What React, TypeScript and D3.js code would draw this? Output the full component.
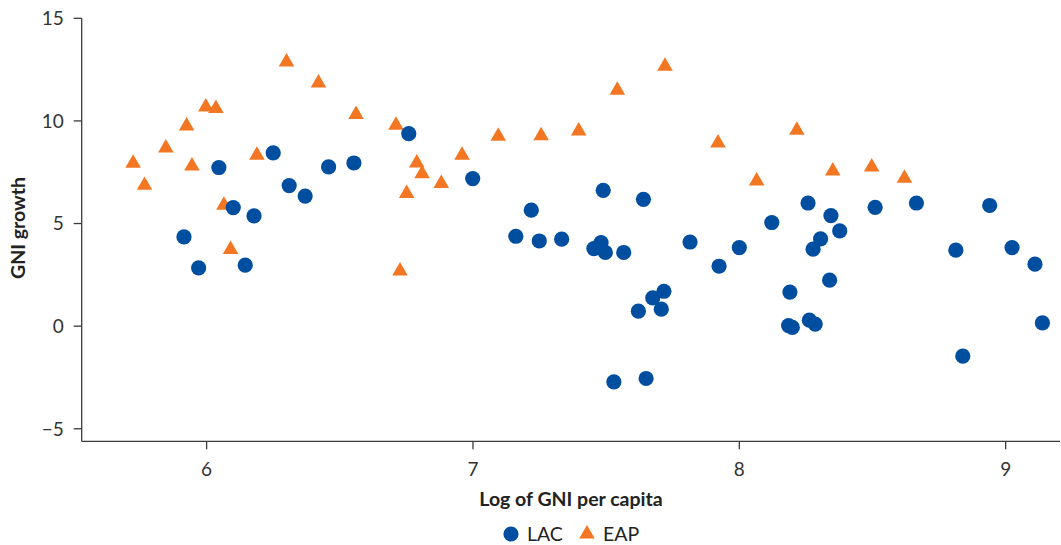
import React from "react";
import * as d3 from "d3";

// LAC: log GNI per capita vs GNI growth
const lacX = [5.915, 5.970, 6.046, 6.100, 6.178, 6.145, 6.250, 6.310, 6.370, 6.458, 6.553, 6.759, 6.999, 7.219, 7.161, 7.249, 7.333, 7.489, 7.640, 7.454, 7.481, 7.497, 7.566, 7.815, 7.621, 7.675, 7.717, 7.707, 7.529, 7.650, 7.924, 8.000, 8.122, 8.258, 8.344, 8.377, 8.305, 8.277, 8.510, 8.665, 8.940, 8.813, 9.024, 9.110, 8.339, 8.190, 8.185, 8.199, 8.263, 8.285, 8.839, 9.138];
const lacY = [4.35, 2.84, 7.73, 5.78, 5.37, 2.97, 8.44, 6.85, 6.34, 7.76, 7.95, 9.38, 7.19, 5.65, 4.38, 4.15, 4.24, 6.62, 6.18, 3.78, 4.07, 3.59, 3.59, 4.10, 0.73, 1.38, 1.70, 0.83, -2.71, -2.55, 2.92, 3.83, 5.05, 6.00, 5.39, 4.64, 4.25, 3.75, 5.79, 6.00, 5.88, 3.70, 3.83, 3.02, 2.24, 1.66, 0.03, -0.06, 0.29, 0.10, -1.46, 0.16];

// EAP: log GNI per capita vs GNI growth
const eapX = [5.724, 5.767, 5.847, 5.925, 5.945, 5.997, 6.035, 6.065, 6.090, 6.189, 6.300, 6.420, 6.561, 6.711, 6.789, 6.809, 6.751, 6.881, 6.959, 6.726, 7.095, 7.256, 7.397, 7.542, 7.721, 7.920, 8.065, 8.216, 8.351, 8.497, 8.620];
const eapY = [7.94, 6.86, 8.68, 9.75, 7.80, 10.68, 10.60, 5.89, 3.73, 8.33, 12.87, 11.85, 10.31, 9.79, 7.95, 7.43, 6.46, 6.95, 8.33, 2.69, 9.25, 9.28, 9.51, 11.49, 12.66, 8.92, 7.07, 9.54, 7.56, 7.76, 7.21];

const xTicks = [6, 7, 8, 9];
const yTicks = [-5, 0, 5, 10, 15];

const seriesNames = ["LAC", "EAP"];

const W = 1061;
const H = 545;
const BLUE = "#004EA0";
const ORANGE = "#F37623";
const AXIS = "#3a3a3a";
const FONT = "Lato, 'Open Sans', sans-serif";

export default function App() {
  const x = d3.scaleLinear().domain([5.531, 9.204]).range([81.7, 1060]);
  const y = d3.scaleLinear().domain([-5.61, 15]).range([441.3, 18.3]);
  const tri = d3.symbol().type(d3.symbolTriangle).size(105)() as string;

  const lac = lacX.map((v, i) => [v, lacY[i]]);
  const eap = eapX.map((v, i) => [v, eapY[i]]);

  const [x0, x1] = x.range();
  const [y0, y1] = y.range();

  return (
    <svg
      width={W}
      height={H}
      style={{ position: "absolute", left: 0, top: 0, background: "#fff" }}
      fontFamily={FONT}
    >
      {/* axes */}
      <line x1={x0} x2={x1} y1={y0} y2={y0} stroke={AXIS} strokeWidth={1.3} />
      <line x1={x0} x2={x0} y1={y0} y2={y1} stroke={AXIS} strokeWidth={1.3} />
      {yTicks.map((t) => (
        <g key={"y" + t} transform={`translate(0,${y(t)})`}>
          <line x1={x0 - 8} x2={x0} stroke={AXIS} strokeWidth={1.3} />
          <text x={x0 - 18} dy="0.36em" textAnchor="end" fontSize={19} fill="#333">
            {t < 0 ? "\u2212" + Math.abs(t) : t}
          </text>
        </g>
      ))}
      {xTicks.map((t) => (
        <g key={"x" + t} transform={`translate(${x(t)},0)`}>
          <line y1={y0} y2={y0 + 8} stroke={AXIS} strokeWidth={1.3} />
          <text y={y0 + 28} dy="0.36em" textAnchor="middle" fontSize={19} fill="#333">
            {t}
          </text>
        </g>
      ))}

      {/* axis titles */}
      <text
        x={571}
        y={499}
        dy="0.36em"
        textAnchor="middle"
        fontSize={19.5}
        fontWeight="bold"
        fill="#222"
      >
        Log of GNI per capita
      </text>
      <text
        transform="translate(18,228) rotate(-90)"
        dy="0.36em"
        textAnchor="middle"
        fontSize={19.5}
        fontWeight="bold"
        fill="#222"
      >
        GNI growth
      </text>

      {/* points */}
      {eap.map(([a, b], i) => (
        <path key={"e" + i} d={tri} transform={`translate(${x(a)},${y(b)})`} fill={ORANGE} />
      ))}
      {lac.map(([a, b], i) => (
        <circle key={"l" + i} cx={x(a)} cy={y(b)} r={7.6} fill={BLUE} />
      ))}

      {/* legend */}
      <g transform="translate(511,534)">
        <circle r={7.6} fill={BLUE} />
        <text x={16} dy="0.36em" fontSize={19.5} fill="#222">
          {seriesNames[0]}
        </text>
        <path d={tri} transform="translate(76,0)" fill={ORANGE} />
        <text x={92} dy="0.36em" fontSize={19.5} fill="#222">
          {seriesNames[1]}
        </text>
      </g>
    </svg>
  );
}
